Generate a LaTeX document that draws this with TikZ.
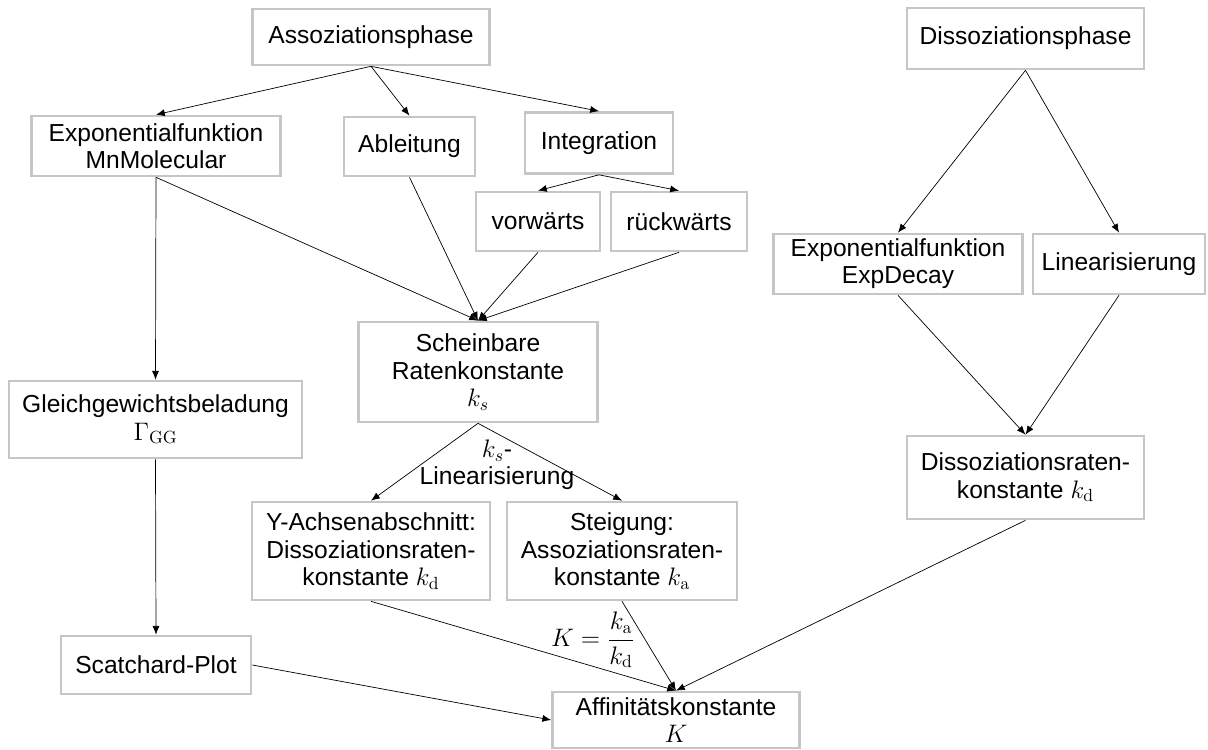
\documentclass[tikz,border=0pt]{standalone}
\usepackage{amsmath}
\usepackage[no-math]{fontspec}
\setmainfont{Liberation Sans}
\usetikzlibrary{arrows.meta}

\begin{document}
\begin{tikzpicture}[
  rbox/.style={rectangle, draw=gray!45, line width=1.5pt, fill=white, align=center,
    inner sep=1pt, font=\fontsize{14}{15.5}\selectfont},
  lbl/.style={align=center, inner sep=1pt, font=\fontsize{14}{15.5}\selectfont},
  arr/.style={-{Latex[length=5pt,width=4pt]}, thin}
]
  \useasboundingbox (0,0) rectangle (24.16,-14.98);

  % Assoziation
  \node[rbox, minimum width=4.74cm, minimum height=1.12cm] (asso)   at (7.42, -0.74)  {Assoziationsphase};
  \node[rbox, minimum width=4.98cm, minimum height=1.20cm] (mnmol)  at (3.12, -2.92)  {Exponentialfunktion\\MnMolecular};
  \node[rbox, minimum width=2.62cm, minimum height=1.18cm] (abl)    at (8.19, -2.93)  {Ableitung};
  \node[rbox, minimum width=2.96cm, minimum height=1.22cm] (integ)  at (11.98, -2.86) {Integration};
  \node[rbox, minimum width=2.48cm, minimum height=1.18cm] (vorw)   at (10.76, -4.43) {vorwärts};
  \node[rbox, minimum width=2.72cm, minimum height=1.18cm] (rueck)  at (13.58, -4.43) {rückwärts};
  \node[rbox, minimum width=4.78cm, minimum height=2.00cm] (schein) at (9.56, -7.44)  {Scheinbare\\Ratenkonstante\\$k_s$};
  \node[rbox, minimum width=5.86cm, minimum height=1.54cm] (gleich) at (3.11, -8.39)  {Gleichgewichtsbeladung\\$\Gamma_\mathrm{GG}$};
  \node[rbox, minimum width=4.76cm, minimum height=1.96cm] (yachse) at (7.42, -11.02) {Y-Achsenabschnitt:\\Dissoziationsraten-\\konstante $k_\mathrm{d}$};
  \node[rbox, minimum width=4.60cm, minimum height=1.96cm] (steig)  at (12.44, -11.02) {Steigung:\\Assoziationsraten-\\konstante $k_\mathrm{a}$};
  \node[rbox, minimum width=3.80cm, minimum height=1.16cm] (scat)   at (3.12, -13.30) {Scatchard-Plot};
  \node[rbox, minimum width=4.94cm, minimum height=1.12cm] (affin)  at (13.52, -14.40) {Affinitätskonstante\\$K$};

  % Dissoziation
  \node[rbox, minimum width=4.74cm, minimum height=1.22cm] (dissph) at (20.51, -0.77) {Dissoziationsphase};
  \node[rbox, minimum width=4.98cm, minimum height=1.20cm] (expdec) at (17.96, -5.28) {Exponentialfunktion\\ExpDecay};
  \node[rbox, minimum width=3.44cm, minimum height=1.20cm] (linear) at (22.38, -5.28) {Linearisierung};
  \node[rbox, minimum width=4.74cm, minimum height=1.66cm] (dissk)  at (20.51, -9.55) {Dissoziationsraten-\\konstante $k_\mathrm{d}$};

  \node[lbl] (kslin) at (9.94, -9.30)  {$k_s$-\\Linearisierung};
  \node[lbl] (kfrac) at (11.86, -12.80) {$K=\dfrac{k_\mathrm{a}}{k_\mathrm{d}}$};

  \draw[arr] (asso.south)   -- (mnmol.north);
  \draw[arr] (asso.south)   -- (abl.north);
  \draw[arr] (asso.south)   -- (integ.north);
  \draw[arr] (integ.south)  -- (vorw.north);
  \draw[arr] (integ.south)  -- (rueck.north);
  \draw[arr] (mnmol.south)  -- (schein.north);
  \draw[arr] (abl.south)    -- (schein.north);
  \draw[arr] (vorw.south)   -- (schein.north);
  \draw[arr] (rueck.south)  -- (schein.north);
  \draw[arr] (mnmol.south)  -- (gleich.north);
  \draw[arr] (gleich.south) -- (scat.north);
  \draw[arr] (schein.south) -- (yachse.north);
  \draw[arr] (schein.south) -- (steig.north);
  \draw[arr] (yachse.south) -- (affin.north);
  \draw[arr] (steig.south)  -- (affin.north);
  \draw[arr] (scat.east)    -- (affin.west);
  \draw[arr] (dissph.south) -- (expdec.north);
  \draw[arr] (dissph.south) -- (linear.north);
  \draw[arr] (expdec.south) -- (dissk.north);
  \draw[arr] (linear.south) -- (dissk.north);
  \draw[arr] (dissk.south)  -- (affin.north);
\end{tikzpicture}
\end{document}
